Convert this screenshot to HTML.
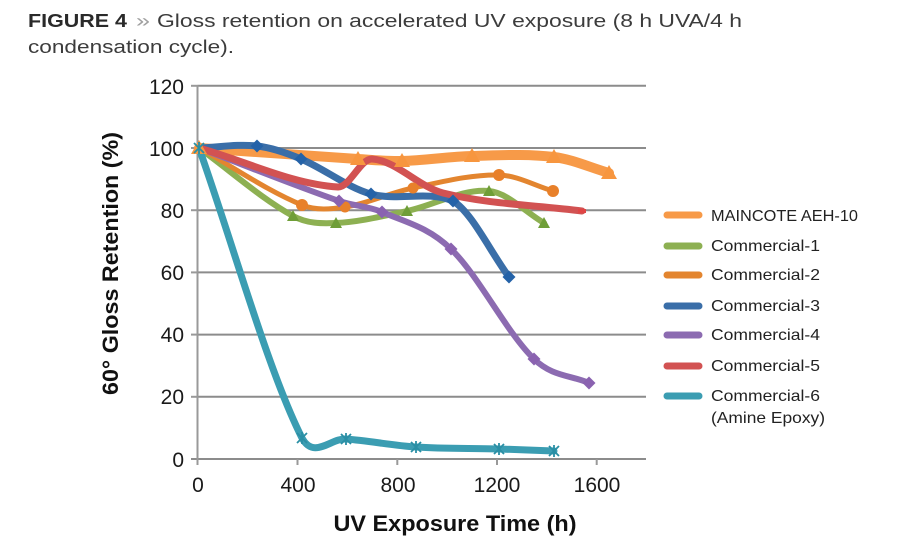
<!DOCTYPE html>
<html>
<head>
<meta charset="utf-8">
<style>
  html,body{margin:0;padding:0;background:#fff;}
  svg{display:block;}
  text{font-family:"Liberation Sans",Arial,sans-serif;}
</style>
</head>
<body>
<svg width="900" height="550" viewBox="0 0 900 550" xmlns="http://www.w3.org/2000/svg">
  <rect width="900" height="550" fill="#fff"/>

  <!-- Title -->
  <text x="28" y="27" font-size="18" font-weight="bold" fill="#2a2a2a" textLength="99" lengthAdjust="spacingAndGlyphs">FIGURE 4</text>
  <text x="136" y="27" font-size="18" fill="#a0a0a0" textLength="14" lengthAdjust="spacingAndGlyphs">»</text>
  <text x="157" y="27" font-size="18" fill="#3c3c3c" textLength="585" lengthAdjust="spacingAndGlyphs">Gloss retention on accelerated UV exposure (8 h UVA/4 h</text>
  <text x="28" y="53" font-size="18" fill="#3c3c3c" textLength="206" lengthAdjust="spacingAndGlyphs">condensation cycle).</text>

  <!-- Gridlines -->
  <g stroke="#8c8c8c" stroke-width="2">
    <line x1="197.5" y1="85.8" x2="646" y2="85.8"/>
    <line x1="197.5" y1="148" x2="646" y2="148"/>
    <line x1="197.5" y1="210.2" x2="646" y2="210.2"/>
    <line x1="197.5" y1="272.4" x2="646" y2="272.4"/>
    <line x1="197.5" y1="334.6" x2="646" y2="334.6"/>
    <line x1="197.5" y1="396.8" x2="646" y2="396.8"/>
    <line x1="191" y1="459" x2="646" y2="459"/>
  </g>
  <!-- Axis + ticks -->
  <g stroke="#999" stroke-width="2">
    <line x1="197.5" y1="85" x2="197.5" y2="465"/>
    <line x1="191" y1="85.8" x2="197.5" y2="85.8"/>
    <line x1="191" y1="148" x2="197.5" y2="148"/>
    <line x1="191" y1="210.2" x2="197.5" y2="210.2"/>
    <line x1="191" y1="272.4" x2="197.5" y2="272.4"/>
    <line x1="191" y1="334.6" x2="197.5" y2="334.6"/>
    <line x1="191" y1="396.8" x2="197.5" y2="396.8"/>
    <line x1="297.5" y1="459" x2="297.5" y2="465"/>
    <line x1="397.3" y1="459" x2="397.3" y2="465"/>
    <line x1="497" y1="459" x2="497" y2="465"/>
    <line x1="596.7" y1="459" x2="596.7" y2="465"/>
  </g>

  <!-- Y tick labels -->
  <g font-size="21" fill="#1a1a1a" text-anchor="end">
    <text x="184" y="94">120</text>
    <text x="184" y="156">100</text>
    <text x="184" y="218">80</text>
    <text x="184" y="280">60</text>
    <text x="184" y="342">40</text>
    <text x="184" y="404">20</text>
    <text x="184" y="467">0</text>
  </g>
  <!-- X tick labels -->
  <g font-size="21" fill="#1a1a1a" text-anchor="middle">
    <text x="198" y="492">0</text>
    <text x="298" y="492">400</text>
    <text x="398" y="492">800</text>
    <text x="497" y="492">1200</text>
    <text x="597" y="492">1600</text>
  </g>

  <!-- Axis titles -->
  <text x="455" y="531" font-size="22" font-weight="bold" fill="#111" text-anchor="middle" textLength="243" lengthAdjust="spacingAndGlyphs">UV Exposure Time (h)</text>
  <text transform="translate(118,263.5) rotate(-90)" x="0" y="0" font-size="22" font-weight="bold" fill="#111" text-anchor="middle" textLength="263" lengthAdjust="spacingAndGlyphs">60° Gloss Retention (%)</text>

  <!-- Series lines -->
  <g fill="none" stroke-linecap="round" stroke-linejoin="round">
    <!-- MAINCOTE -->
    <path stroke="#F79A48" stroke-width="10" d="M199,148 C252,151.7 305,155.6 358,159 C372.7,159.9 387.3,161.4 402,161 C425.3,160.4 448.7,156.6 472,156 C499.3,155.3 526.7,153.6 554,157 C572.3,159.3 590.7,167.7 609,173"/>
    <!-- Commercial-1 -->
    <path stroke="#8DB052" stroke-width="6" d="M199,148 C230.3,170.7 261.7,198.9 293,216 C307.3,223.8 321.7,223.6 336,223 C359.7,222 383.3,216 407,211 C434.3,205.3 461.7,188.6 489,191 C507.3,192.6 525.7,212.3 544,223"/>
    <!-- Commercial-2 -->
    <path stroke="#E3852F" stroke-width="5" d="M199,148 C233.3,167 267.7,191.1 302,205 C316.3,210.8 330.7,209.2 345,207 C367.7,203.5 390.3,192.7 413,188 C441.7,182 470.3,174.4 499,175 C517,175.4 535,185.7 553,191"/>
    <!-- Commercial-3 -->
    <path stroke="#3A6EA8" stroke-width="7" d="M199,148 C218.3,147.3 237.7,143.9 257,146 C271.7,147.6 286.3,152.8 301,159 C324.3,168.8 347.7,187.6 371,194 C398.3,201.5 425.7,190 453,201 C471.7,212.2 490.3,251.7 509,277"/>
    <!-- Commercial-4 -->
    <path stroke="#8C6BB1" stroke-width="6" d="M199,148 C245.7,165.7 292.3,184.7 339,201 C353.3,206 367.7,205.9 382,212 C405,221.9 428,226.8 451,249 C478.7,275.8 506.3,332.1 534,359 C552.3,376.8 570.7,375 589,383"/>
    <!-- Commercial-5 -->
    <path stroke="#D25252" stroke-width="7" d="M199,148 C245.3,161 291.7,184.1 338,187 C349.3,187.7 360.7,158.4 372,159 C395.7,160.4 419.3,187.1 443,193 C489.3,204.5 535.7,205 582,211"/>
    <!-- Commercial-6 -->
    <path stroke="#3B9DB2" stroke-width="7" d="M199,148 C233.3,244.7 267.7,370 302,438 C314,460 331.3,437.8 346,439 C369.3,440.8 392.7,445.5 416,447 C443.7,448.8 471.3,448.2 499,449 C517.3,449.5 535.7,450.3 554,451"/>
  </g>

  <!-- Markers -->
  <g fill="#F7963F">
    <polygon points="199,140 207,154 191,154"/>
    <polygon points="358,151 366,165 350,165"/>
    <polygon points="402,153 410,167 394,167"/>
    <polygon points="472,148 480,162 464,162"/>
    <polygon points="554,149 562,163 546,163"/>
    <polygon points="609,165 617,179 601,179"/>
  </g>
  <g fill="#6F9E38">
    <polygon points="293,210 299,221 287,221"/>
    <polygon points="336,217 342,228 330,228"/>
    <polygon points="407,205 413,216 401,216"/>
    <polygon points="489,185 495,196 483,196"/>
    <polygon points="544,217 550,228 538,228"/>
  </g>
  <g fill="#E8802A">
    <circle cx="302" cy="205" r="6"/>
    <circle cx="345" cy="207" r="5.5"/>
    <circle cx="413" cy="188" r="5.5"/>
    <circle cx="499" cy="175" r="6"/>
    <circle cx="553" cy="191" r="6"/>
  </g>
  <g fill="#2462A8">
    <polygon points="257,139.5 263.5,146 257,152.5 250.5,146"/>
    <polygon points="301,152.5 307.5,159 301,165.5 294.5,159"/>
    <polygon points="371,187.5 377.5,194 371,200.5 364.5,194"/>
    <polygon points="453,194.5 459.5,201 453,207.5 446.5,201"/>
    <polygon points="509,270.5 515.5,277 509,283.5 502.5,277"/>
  </g>
  <g fill="#E04545">
    <rect x="578" y="209" width="8" height="4"/>
  </g>
  <g fill="#8A62B0">
    <polygon points="339,194.5 345.5,201 339,207.5 332.5,201"/>
    <polygon points="382,205.5 388.5,212 382,218.5 375.5,212"/>
    <polygon points="451,242.5 457.5,249 451,255.5 444.5,249"/>
    <polygon points="534,352.5 540.5,359 534,365.5 527.5,359"/>
    <polygon points="589,376.5 595.5,383 589,389.5 582.5,383"/>
  </g>
  <g stroke="#2A8FA5" stroke-width="1.8" fill="none">
    <path d="M194,143 L204,153 M204,143 L194,153 M199,142 L199,154"/>
    <path d="M297,433 L307,443 M307,433 L297,443 M302,432 L302,444"/>
    <path d="M341,434 L351,444 M351,434 L341,444 M346,433 L346,445"/>
    <path d="M411,442 L421,452 M421,442 L411,452 M416,441 L416,453"/>
    <path d="M494,444 L504,454 M504,444 L494,454 M499,443 L499,455"/>
    <path d="M549,446 L559,456 M559,446 L549,456 M554,445 L554,457"/>
  </g>

  <!-- Legend -->
  <g stroke-linecap="round" stroke-width="7">
    <line x1="667" y1="215" x2="699" y2="215" stroke="#F79A48"/>
    <line x1="667" y1="246" x2="699" y2="246" stroke="#8DB052"/>
    <line x1="667" y1="275" x2="699" y2="275" stroke="#E3852F"/>
    <line x1="667" y1="306" x2="699" y2="306" stroke="#3A6EA8"/>
    <line x1="667" y1="335" x2="699" y2="335" stroke="#8C6BB1"/>
    <line x1="667" y1="366" x2="699" y2="366" stroke="#D25252"/>
    <line x1="667" y1="396" x2="699" y2="396" stroke="#3B9DB2"/>
  </g>
  <g font-size="16" fill="#222">
    <text x="711" y="221" textLength="147" lengthAdjust="spacingAndGlyphs">MAINCOTE AEH-10</text>
    <text x="711" y="251" textLength="109" lengthAdjust="spacingAndGlyphs">Commercial-1</text>
    <text x="711" y="280" textLength="109" lengthAdjust="spacingAndGlyphs">Commercial-2</text>
    <text x="711" y="311" textLength="109" lengthAdjust="spacingAndGlyphs">Commercial-3</text>
    <text x="711" y="340" textLength="109" lengthAdjust="spacingAndGlyphs">Commercial-4</text>
    <text x="711" y="371" textLength="109" lengthAdjust="spacingAndGlyphs">Commercial-5</text>
    <text x="711" y="401" textLength="109" lengthAdjust="spacingAndGlyphs">Commercial-6</text>
    <text x="711" y="423" textLength="114" lengthAdjust="spacingAndGlyphs">(Amine Epoxy)</text>
  </g>
</svg>
</body>
</html>
